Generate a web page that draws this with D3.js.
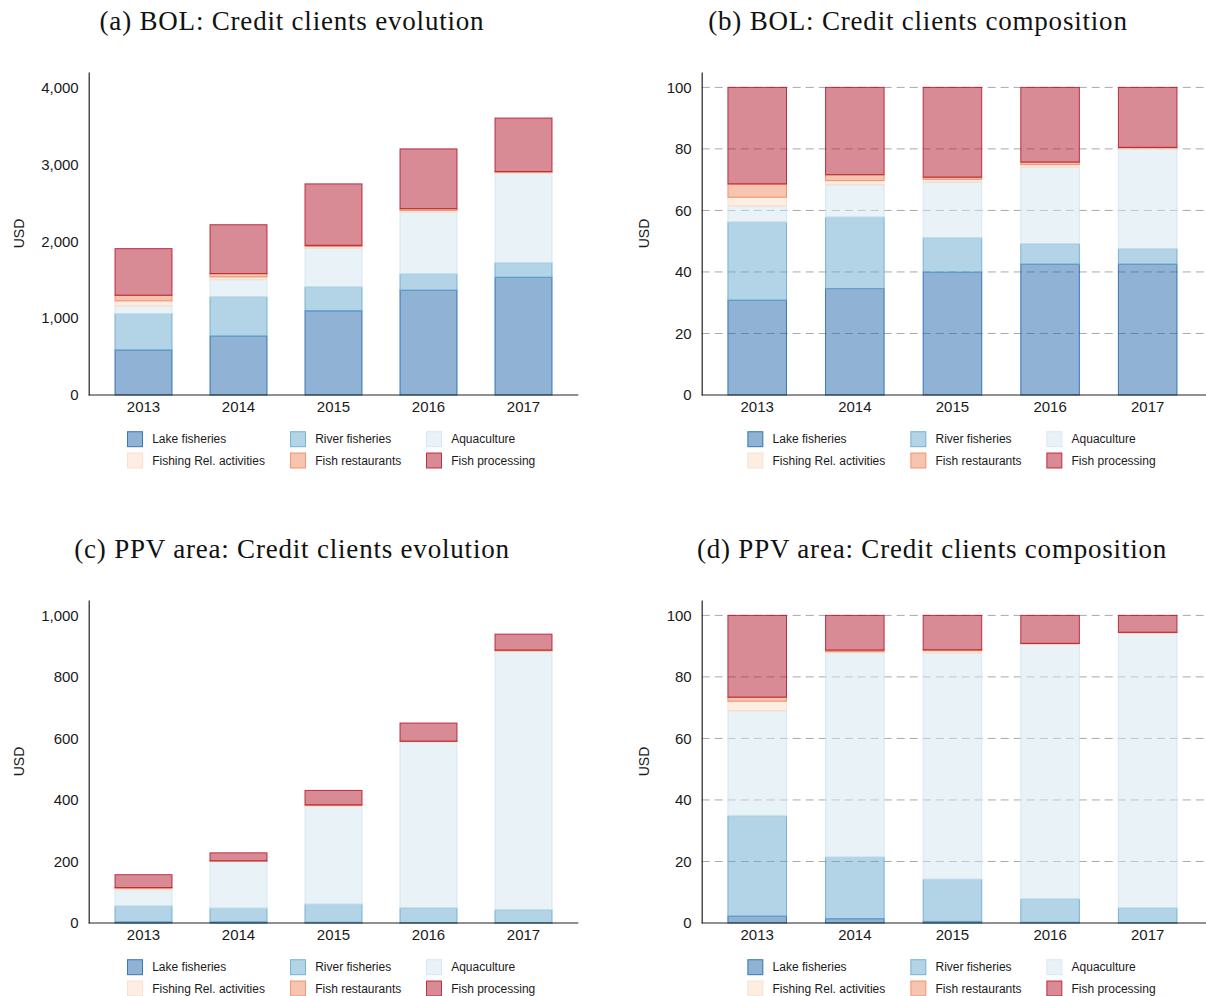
<!DOCTYPE html>
<html>
<head>
<meta charset="utf-8">
<script src="https://cdn.jsdelivr.net/npm/d3@7"></script>
<style>
  body { margin: 0; background: #fff; }
  svg { display: block; }
  text { font-family: "Liberation Sans", Arial, sans-serif; fill: #1a1a1a; }
  .title { font-family: "Liberation Serif", "Times New Roman", serif; font-size: 27px; letter-spacing: 0.8px; fill: #111; }
</style>
</head>
<body>
<script>
// categories
const years = ["2013", "2014", "2015", "2016", "2017"];
const sectors = ["Lake fisheries", "River fisheries", "Aquaculture",
                 "Fishing Rel. activities", "Fish restaurants", "Fish processing"];
const sectorColors = ["#2166ac", "#67a9cf", "#d1e5f0", "#fddbc7", "#ef8a62", "#b2182b"];

// one row per year, values in sector order (bottom -> top)
const bolLevels = [
  [584, 475, 100, 65, 73, 606],
  [765, 511, 224, 35, 43, 636],
  [1094, 311, 506, 21, 14, 799],
  [1362, 212, 804, 22, 22, 778],
  [1530, 191, 1163, 13, 8, 696]
];
const bolShares = [
  [30.8, 25.4, 5.2, 2.9, 4.3, 31.4],
  [34.6, 23.2, 10.5, 1.4, 1.9, 28.4],
  [39.9, 11.2, 18.1, 0.9, 0.7, 29.2],
  [42.5, 6.7, 24.9, 0.8, 0.8, 24.3],
  [42.5, 5.1, 32.4, 0.3, 0.2, 19.5]
];
const ppvLevels = [
  [3, 52, 53, 5, 2, 42],
  [3, 45, 152, 1, 1, 26],
  [2, 59, 318, 3, 2, 47],
  [1, 48, 540, 1, 1, 59],
  [1, 42, 840, 2, 2, 52]
];
const ppvShares = [
  [2.2, 32.6, 34.2, 3.1, 1.3, 26.6],
  [1.4, 20.0, 66.5, 0.3, 0.5, 11.3],
  [0.5, 13.7, 73.5, 0.8, 0.3, 11.2],
  [0.2, 7.6, 82.8, 0.2, 0.1, 9.1],
  [0.1, 4.8, 89.3, 0.2, 0.1, 5.5]
];

// tick labels
const levelTicksBol = [0, 1000, 2000, 3000, 4000];
const levelTicksPpv = [0, 200, 400, 600, 800, 1000];
const shareTicks = [0, 20, 40, 60, 80, 100];

const svg = d3.select("body").append("svg")
  .attr("width", 1206)
  .attr("height", 996);

const panels = [
  { title: "(a) BOL: Credit clients evolution", rows: bolLevels, ticks: levelTicksBol, max: 4200,
    grid: false, titleX: 292, titleY: 30, axisX: 88.7, axisEnd: 578.3, band: [96, 571], base: 395, usdX: 23.5 },
  { title: "(b) BOL: Credit clients composition", rows: bolShares, ticks: shareTicks, max: 105,
    grid: true, titleX: 918, titleY: 30, axisX: 701.7, axisEnd: 1206, band: [708.4, 1196.5], base: 395, usdX: 649 },
  { title: "(c) PPV area: Credit clients evolution", rows: ppvLevels, ticks: levelTicksPpv, max: 1050,
    grid: false, titleX: 292, titleY: 558, axisX: 88.7, axisEnd: 578.3, band: [96, 571], base: 923, usdX: 23.5 },
  { title: "(d) PPV area: Credit clients composition", rows: ppvShares, ticks: shareTicks, max: 105,
    grid: true, titleX: 932, titleY: 558, axisX: 701.7, axisEnd: 1206, band: [708.4, 1196.5], base: 923, usdX: 649 }
];

panels.forEach(drawPanel);

function drawPanel(p) {
  const g = svg.append("g");
  const plotHeight = 323;

  const x = d3.scaleBand()
    .domain(years)
    .range(p.band)
    .paddingInner(0.4)
    .paddingOuter(0.2);

  const y = d3.scaleLinear()
    .domain([0, p.max])
    .range([p.base, p.base - plotHeight]);

  // title
  svg.append("text")
    .attr("class", "title")
    .attr("x", p.titleX)
    .attr("y", p.titleY)
    .attr("text-anchor", "middle")
    .text(p.title);

  // dashed grid (composition panels only)
  if (p.grid) {
    g.append("g")
      .selectAll("line")
      .data(p.ticks.filter(t => t > 0))
      .join("line")
      .attr("x1", p.axisX)
      .attr("x2", p.axisEnd)
      .attr("y1", d => y(d))
      .attr("y2", d => y(d))
      .attr("stroke", "#a8a8a8")
      .attr("stroke-width", 1)
      .attr("stroke-dasharray", "8,5");
  }

  // stacked bars
  const table = p.rows.map((r, i) => {
    const o = { year: years[i] };
    sectors.forEach((s, k) => { o[s] = r[k]; });
    return o;
  });
  const stacked = d3.stack().keys(sectors)(table);

  g.append("g")
    .selectAll("g")
    .data(stacked)
    .join("g")
    .attr("fill", (d, i) => sectorColors[i])
    .attr("fill-opacity", 0.5)
    .attr("stroke", (d, i) => sectorColors[i])
    .attr("stroke-opacity", 0.85)
    .attr("stroke-width", 1)
    .selectAll("rect")
    .data(d => d)
    .join("rect")
    .attr("x", d => x(d.data.year))
    .attr("width", x.bandwidth())
    .attr("y", d => y(d[1]))
    .attr("height", d => y(d[0]) - y(d[1]));

  // y axis
  const yAxis = d3.axisLeft(y)
    .tickValues(p.ticks)
    .tickSize(0)
    .tickSizeOuter(0)
    .tickPadding(10)
    .tickFormat(d3.format(","));
  const ya = g.append("g")
    .attr("transform", `translate(${p.axisX},0)`)
    .call(yAxis);
  ya.select(".domain").attr("stroke", "#222").attr("stroke-width", 1.2);
  ya.selectAll("text").style("font-size", "15px").attr("fill", "#1a1a1a");

  // x axis
  const xa = g.append("g")
    .attr("transform", `translate(0,${p.base})`)
    .call(d3.axisBottom(x).tickSize(0).tickPadding(6));
  xa.select(".domain").remove();
  xa.selectAll("text").style("font-size", "15px").attr("fill", "#1a1a1a");
  g.append("line")
    .attr("x1", p.axisX)
    .attr("x2", p.axisEnd)
    .attr("y1", y(0))
    .attr("y2", y(0))
    .attr("stroke", "#222")
    .attr("stroke-width", 1.2);

  // axis title
  g.append("text")
    .attr("transform", `translate(${p.usdX},${p.base - plotHeight / 2}) rotate(-90)`)
    .attr("text-anchor", "middle")
    .style("font-size", "14px")
    .text("USD");

  // legend, centred on the plot area
  const cx = (p.axisX + p.axisEnd) / 2;
  const colOffsets = [-206, -43, 93];
  const rowTops = [36.7, 58];
  const leg = g.append("g")
    .selectAll("g")
    .data(sectors)
    .join("g")
    .attr("transform", (d, i) =>
      `translate(${cx + colOffsets[i % 3]},${p.base + rowTops[Math.floor(i / 3)]})`);
  leg.append("rect")
    .attr("width", 15)
    .attr("height", 15)
    .attr("fill", (d, i) => sectorColors[i])
    .attr("fill-opacity", 0.5)
    .attr("stroke", (d, i) => sectorColors[i])
    .attr("stroke-opacity", 0.85);
  leg.append("text")
    .attr("x", 24.7)
    .attr("y", 7.5)
    .attr("dy", "0.35em")
    .style("font-size", "12px")
    .text(d => d);
}
</script>
</body>
</html>
